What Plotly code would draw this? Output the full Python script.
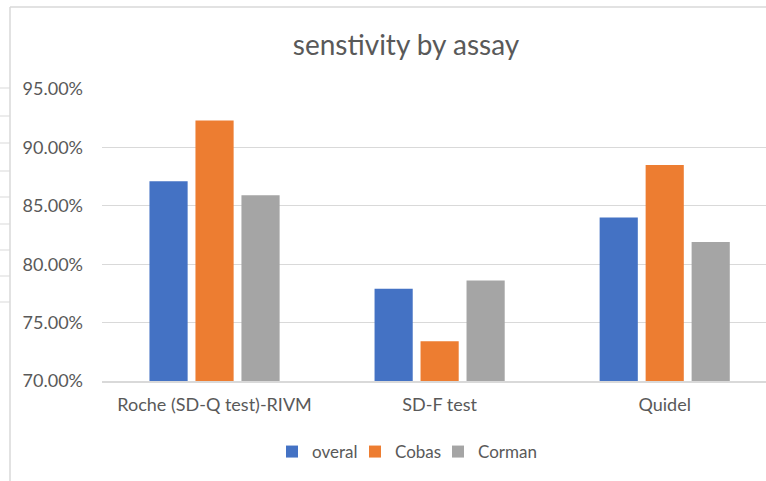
import plotly.graph_objects as go

categories = ["Roche (SD-Q test)-RIVM", "SD-F test", "Quidel"]
series_names = ["overal", "Cobas", "Corman"]
overal = [0.871, 0.779, 0.840]
cobas = [0.923, 0.734, 0.885]
corman = [0.859, 0.786, 0.819]
colors = ["#4472C4", "#ED7D31", "#A5A5A5"]

W, H = 766, 481
L, R, T, B = 102, 0, 89, 100
PW, PH = W - L - R, H - T - B

def px(x):
    return (x - L) / PW

def py(y):
    return (H - B - y) / PH

FONT = "Lato, Carlito, Calibri, sans-serif"
TXT = "#595959"

legend_ids = ["legend", "legend2", "legend3"]
legend_left_px = [272, 355, 438]

fig = go.Figure()
for name, vals, c, lid in zip(series_names, [overal, cobas, corman], colors, legend_ids):
    fig.add_trace(go.Bar(x=categories, y=vals, name=name, legend=lid,
                         marker=dict(color=c, line=dict(width=0))))

shapes = []
# chart frame (left and top border)
shapes.append(dict(type="line", xref="paper", yref="paper", x0=px(10), x1=px(10), y0=py(7), y1=py(481),
                   line=dict(color="#d9d9d9", width=1.5)))
shapes.append(dict(type="line", xref="paper", yref="paper", x0=px(10), x1=px(766), y0=py(7), y1=py(7),
                   line=dict(color="#d9d9d9", width=1.5)))
# spreadsheet row lines peeking at the left edge
for yy in [88, 116, 143, 171, 197, 224, 250, 276, 302]:
    shapes.append(dict(type="line", xref="paper", yref="paper", x0=px(0), x1=px(10), y0=py(yy), y1=py(yy),
                       line=dict(color="#d9d9d9", width=1)))

legend_cfg = {}
for lid, lx in zip(legend_ids, legend_left_px):
    legend_cfg[lid] = dict(orientation="h", x=px(lx), xanchor="left", y=py(452), yanchor="middle",
                           font=dict(size=17, color=TXT), itemwidth=30, bgcolor="rgba(0,0,0,0)")

fig.update_layout(
    width=W, height=H,
    margin=dict(l=L, r=R, t=T, b=B),
    paper_bgcolor="white", plot_bgcolor="white",
    barmode="group", bargap=0.387, bargroupgap=0.17,
    title=dict(text="senstivity by assay", x=px(406), xref="paper", xanchor="center",
               y=1 - 45 / H, yref="container", yanchor="middle",
               font=dict(family=FONT, size=28, color=TXT)),
    font=dict(family=FONT, size=18, color=TXT),
    xaxis=dict(range=[-0.5, 2.45], showgrid=False, showline=True, linecolor="#d9d9d9", linewidth=1.5,
               ticks="", tickfont=dict(size=18, color=TXT), ticklabelstandoff=7, fixedrange=True),
    yaxis=dict(range=[0.70, 0.95], dtick=0.05, tickformat=".2%", showgrid=True, gridcolor="#d9d9d9",
               gridwidth=1, zeroline=False, showline=False, ticks="", ticklabelstandoff=18,
               tickfont=dict(size=18, color=TXT)),
    shapes=shapes,
    showlegend=True,
    **legend_cfg,
)

fig.write_html("out.html")
